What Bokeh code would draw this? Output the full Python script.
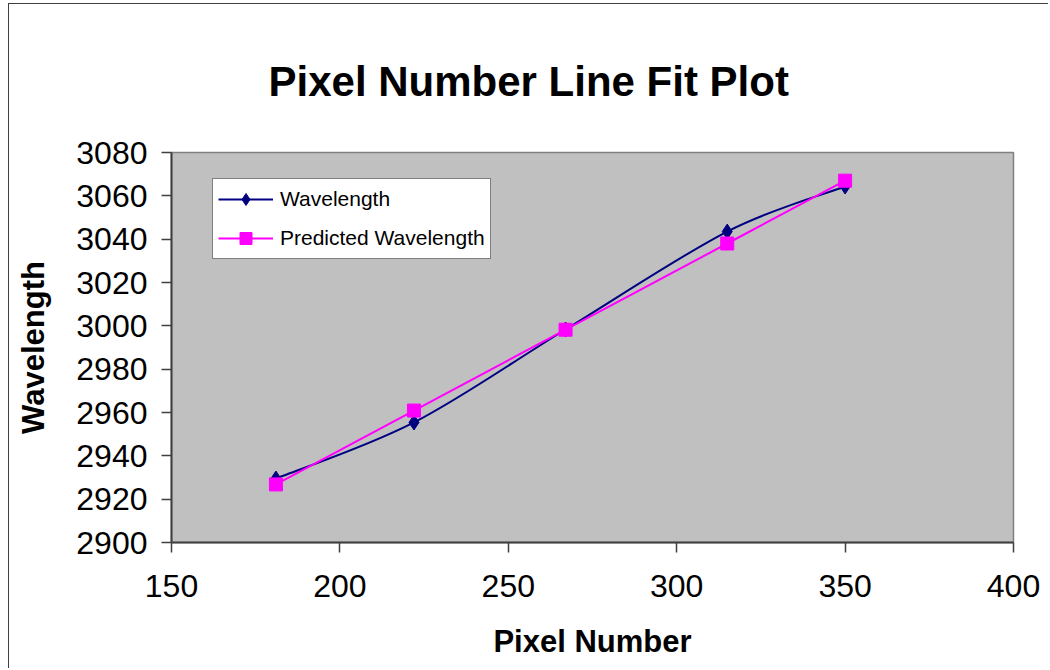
from bokeh.plotting import figure
from bokeh.models import FixedTicker, Legend, LegendItem, ColumnDataSource
from bokeh.embed import file_html
from bokeh.resources import INLINE

# ---- data ----
pixel = [181, 222, 267, 315, 350]
wavelength = [2929.5, 2955.4, 2998.3, 3043.5, 3064.3]
predicted = [2926.8, 2960.9, 2998.2, 3038.0, 3067.0]
x_ticks = [150, 200, 250, 300, 350, 400]
y_ticks = [2900, 2920, 2940, 2960, 2980, 3000, 3020, 3040, 3060, 3080]

title_text = "Pixel Number Line Fit  Plot"
x_label = "Pixel Number"
y_label = "Wavelength"
series_names = ["Wavelength", "Predicted Wavelength"]

FONT = "Liberation Sans"
NAVY = "#000080"
MAGENTA = "#FF00FF"


def smooth_segments(xs, ys, k=1.0 / 6.0):
    """Bezier segments through the data points (Excel-style smoothed line)."""
    n = len(xs)
    d = dict(x0=[], y0=[], x1=[], y1=[], cx0=[], cy0=[], cx1=[], cy1=[])
    for i in range(n - 1):
        ip = max(i - 1, 0)
        inx = min(i + 2, n - 1)
        d["x0"].append(xs[i]); d["y0"].append(ys[i])
        d["x1"].append(xs[i + 1]); d["y1"].append(ys[i + 1])
        d["cx0"].append(xs[i] + (xs[i + 1] - xs[ip]) * k)
        d["cy0"].append(ys[i] + (ys[i + 1] - ys[ip]) * k)
        d["cx1"].append(xs[i + 1] - (xs[inx] - xs[i]) * k)
        d["cy1"].append(ys[i + 1] - (ys[inx] - ys[i]) * k)
    return ColumnDataSource(d)


p = figure(width=1040, height=665, x_range=(150, 400), y_range=(2900, 3080),
           output_backend="svg", toolbar_location=None)
p.styles = {"border-left": "1px solid #404040", "border-top": "1px solid #404040",
            "margin-left": "8px", "margin-top": "3px"}
p.min_border_left = 162
p.min_border_right = 36
p.min_border_top = 148
p.min_border_bottom = 127
p.background_fill_color = "#C0C0C0"
p.border_fill_color = "white"
p.outline_line_color = "#808080"
p.outline_line_width = 1.5
p.xgrid.visible = False
p.ygrid.visible = False

xa = p.below[0]
ya = p.left[0]

for ax, ticks in ((xa, x_ticks), (ya, y_ticks)):
    ax.ticker = FixedTicker(ticks=ticks)
    ax.minor_tick_line_color = None
    ax.major_tick_in = 0
    ax.major_tick_out = 10
    ax.major_tick_line_color = "#404040"
    ax.major_tick_line_width = 1.5
    ax.axis_line_color = "#404040"
    ax.axis_line_width = 2
    ax.major_label_text_font = FONT
    ax.major_label_text_font_size = "32px"
    ax.major_label_text_color = "black"
    ax.axis_label_text_font = FONT
    ax.axis_label_text_font_size = "31px"
    ax.axis_label_text_font_style = "bold"
    ax.axis_label_text_color = "black"

xa.axis_label = x_label
ya.axis_label = y_label
xa.major_label_standoff = 22
ya.major_label_standoff = 14
xa.axis_label_standoff = 24
ya.axis_label_standoff = 22

p.title.text = title_text
p.title.text_font = FONT
p.title.text_font_size = "42px"
p.title.text_font_style = "bold"
p.title.text_color = "black"
p.title.align = "left"
p.title.offset = 97
p.title.standoff = 96

src1 = smooth_segments(pixel, wavelength)
src2 = smooth_segments(pixel, predicted)

l1 = p.bezier(x0="x0", y0="y0", x1="x1", y1="y1", cx0="cx0", cy0="cy0",
              cx1="cx1", cy1="cy1", source=src1, line_color=NAVY, line_width=2)
s1 = p.scatter(pixel, wavelength, marker="diamond", size=15, fill_color=NAVY,
               line_color=NAVY)
l2 = p.bezier(x0="x0", y0="y0", x1="x1", y1="y1", cx0="cx0", cy0="cy0",
              cx1="cx1", cy1="cy1", source=src2, line_color=MAGENTA, line_width=2)
s2 = p.scatter(pixel, predicted, marker="square", size=13, fill_color=MAGENTA,
               line_color=MAGENTA)

legend = Legend(items=[LegendItem(label=series_names[0], renderers=[l1, s1]),
                       LegendItem(label=series_names[1], renderers=[l2, s2])],
                location=(41, 283))
legend.border_line_color = "black"
legend.border_line_width = 1
legend.background_fill_color = "white"
legend.background_fill_alpha = 1
legend.label_text_font = FONT
legend.label_text_font_size = "21px"
legend.label_text_color = "black"
legend.glyph_width = 55
legend.glyph_height = 30
legend.label_height = 30
legend.spacing = 9
legend.padding = 5
legend.margin = 0
legend.label_standoff = 7
p.add_layout(legend)

open("out.html", "w").write(file_html(p, INLINE))
